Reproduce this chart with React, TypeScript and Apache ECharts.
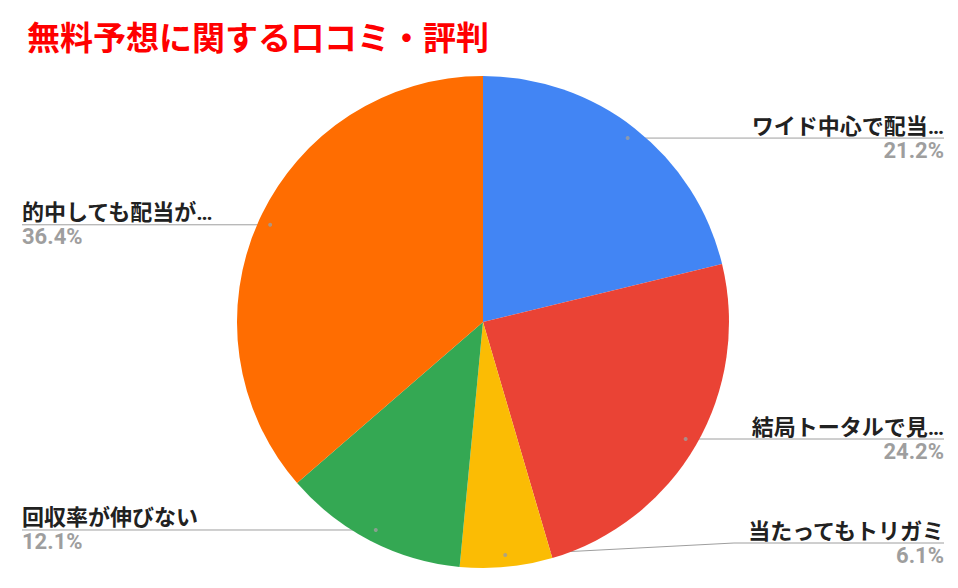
import { useEffect, useRef } from 'react'
import * as echarts from 'echarts'

const title = '無料予想に関する口コミ・評判'
const names = ['ワイド中心で配当…', '結局トータルで見…', '当たってもトリガミ', '回収率が伸びない', '的中しても配当が…']
const counts = [7, 8, 2, 4, 12]
const colors = ['#4285F4', '#EA4335', '#FBBC04', '#34A853', '#FF6D01']

const FONT = "Roboto, 'Noto Sans CJK JP', sans-serif"

export default function App() {
  const chartRef = useRef<HTMLDivElement>(null)

  useEffect(() => {
    if (!chartRef.current) return
    const chart = echarts.init(chartRef.current, null, { renderer: 'svg' })

    const center = [475, 322]
    const radius = 246
    const dotR = 234
    const bottomPad = 22
    const total = counts.reduce((a, b) => a + b, 0)

    // 扇区中点（引线起点的小圆点）
    let acc = 0
    const dots = counts.map(c => {
      const mid = acc + c / 2
      acc += c
      return [dotR, mid]
    })

    const pieData = names.map((n, i) => ({
      name: n,
      value: counts[i],
      itemStyle: { color: colors[i] },
    }))

    const option: echarts.EChartsOption = {
      animation: false,
      backgroundColor: '#fff',
      textStyle: { fontFamily: FONT },
      title: {
        text: title,
        left: 14,
        top: 17,
        textStyle: { color: '#ff0000', fontSize: 33, fontWeight: 'bold', fontFamily: FONT },
      },
      polar: { center, radius },
      angleAxis: { type: 'value', min: 0, max: total, startAngle: 90, clockwise: true, show: false },
      radiusAxis: { type: 'value', min: 0, max: radius, show: false },
      series: [
        {
          type: 'pie',
          center,
          radius,
          startAngle: 90,
          clockwise: true,
          silent: true,
          label: { show: false },
          labelLine: { show: false },
          itemStyle: { borderWidth: 0 },
          data: pieData,
        },
        {
          // 透明覆盖层：只负责标签和引线
          type: 'pie',
          center,
          radius: dotR,
          startAngle: 90,
          clockwise: true,
          silent: true,
          percentPrecision: 1,
          itemStyle: { color: 'rgba(0,0,0,0)', borderWidth: 0 },
          label: {
            show: true,
            position: 'outside',
            alignTo: 'edge',
            edgeDistance: 14,
            formatter: '{name|{b}}\n{pct|{d}%}',
            rich: {
              name: { fontSize: 22, fontWeight: 'bold', color: '#212121', lineHeight: 24, fontFamily: FONT },
              pct: { fontSize: 22, fontWeight: 'bold', color: '#9e9e9e', lineHeight: 24, fontFamily: FONT },
            },
          },
          labelLine: {
            show: true,
            length: 0,
            length2: 0,
            lineStyle: { color: '#9e9e9e', width: 1 },
          },
          labelLayout(params: any) {
            const r = params.labelRect
            const points = params.labelLinePoints
            if (!points) return {}
            const isLeft = r.x < chart.getWidth() / 2
            const maxBottom = chart.getHeight() - bottomPad
            // 底部越界时整体上移，引线斜向连接
            if (r.y + r.height > maxBottom) {
              const cy = maxBottom - r.height / 2
              const nearX = isLeft ? r.x + r.width : r.x
              return {
                y: cy,
                labelLinePoints: [points[0], [nearX - (isLeft ? -12 : 12), cy], [isLeft ? r.x : r.x + r.width, cy]],
              }
            }
            points[2][0] = isLeft ? r.x : r.x + r.width
            return { labelLinePoints: points }
          },
          data: pieData.map(d => ({ name: d.name, value: d.value })),
        },
        {
          type: 'scatter',
          coordinateSystem: 'polar',
          silent: true,
          symbolSize: 4,
          itemStyle: { color: '#9e9e9e' },
          data: dots,
        },
      ],
    }

    chart.setOption(option)
    return () => chart.dispose()
  }, [])

  return (
    <div
      ref={chartRef}
      style={{ position: 'fixed', left: 8, top: 0, width: 950, height: 588 }}
    />
  )
}
